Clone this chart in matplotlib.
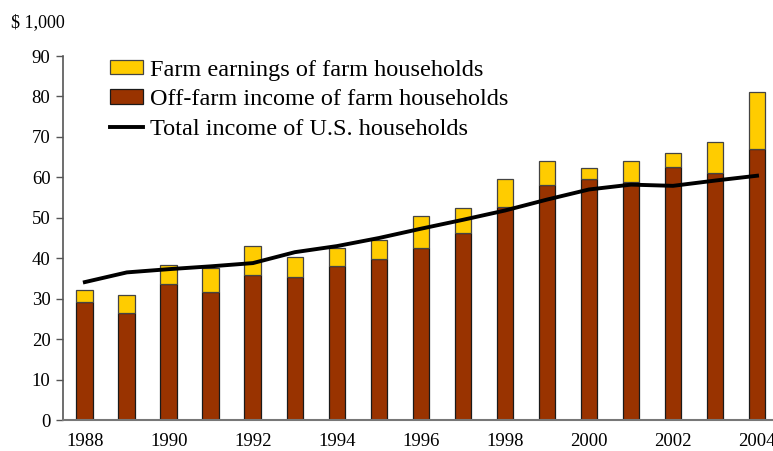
import matplotlib
matplotlib.use("Agg")
import matplotlib.pyplot as plt
from matplotlib.patches import Patch
from matplotlib.lines import Line2D

plt.rcParams['font.family'] = ['Liberation Serif', 'DejaVu Serif']

years = list(range(1988, 2005))
# off-farm income of farm households ($1,000)
offFarm = [29.2, 26.5, 33.6, 31.6, 35.9, 35.4, 38.1, 39.8, 42.5, 46.3,
           52.7, 58.1, 59.6, 58.9, 62.6, 61.1, 67.0]
# total of farm households (off-farm + farm earnings)
farmTotal = [32.1, 30.9, 38.3, 37.6, 43.0, 40.3, 42.5, 44.5, 50.4, 52.4,
             59.6, 64.0, 62.3, 64.0, 66.0, 68.7, 81.1]
farmEarnings = [t - o for t, o in zip(farmTotal, offFarm)]
# total income of U.S. households
usTotal = [34.1, 36.5, 37.3, 38.0, 38.8, 41.5, 43.0, 45.0, 47.3, 49.5,
           51.8, 54.5, 57.0, 58.2, 57.9, 59.2, 60.4]

yTicks = [0, 10, 20, 30, 40, 50, 60, 70, 80, 90]
xLabels = [1988, 1990, 1992, 1994, 1996, 1998, 2000, 2002, 2004]

yellow = "#FFCC00"
brown = "#993300"

fig = plt.figure(figsize=(7.73, 4.51), dpi=100)
ax = fig.add_axes([0.0815, 0.0687, 0.9185, 0.8071])

ax.bar(years, offFarm, width=0.4, color=brown, edgecolor="#1a1a1a", linewidth=0.9)
ax.bar(years, farmEarnings, width=0.4, bottom=offFarm, color=yellow,
       edgecolor="#444444", linewidth=0.9)
ax.plot(years, usTotal, color="black", linewidth=2.8)

ax.set_xlim(1987.48, 2004.38)
ax.set_ylim(0, 90)
ax.set_yticks(yTicks)
ax.set_xticks(xLabels)
ax.tick_params(axis="x", length=0, pad=9, labelsize=13.5)
ax.tick_params(axis="y", length=5, width=1, color="#555555", labelsize=13.5, pad=4)

for side in ["top", "right"]:
    ax.spines[side].set_visible(False)
ax.spines["left"].set_color("#555555")
ax.spines["bottom"].set_color("#777777")
ax.spines["left"].set_linewidth(1.2)
ax.spines["bottom"].set_linewidth(1.5)

fig.text(0.014, 0.951, "$ 1,000", fontsize=13, va="center", ha="left")

handles = [
    Patch(facecolor=yellow, edgecolor="#444444", linewidth=0.9),
    Patch(facecolor=brown, edgecolor="#1a1a1a", linewidth=0.9),
    Line2D([0], [0], color="black", linewidth=2.8),
]
labels = ["Farm earnings of farm households",
          "Off-farm income of farm households",
          "Total income of U.S. households"]
ax.legend(handles, labels, loc="upper left", bbox_to_anchor=(0.066, 0.99),
          frameon=False, fontsize=17.5, handlelength=1.36, handleheight=0.55,
          handletextpad=0.3, labelspacing=0.35, borderaxespad=0, borderpad=0)

fig.savefig("out.png", dpi=100)
